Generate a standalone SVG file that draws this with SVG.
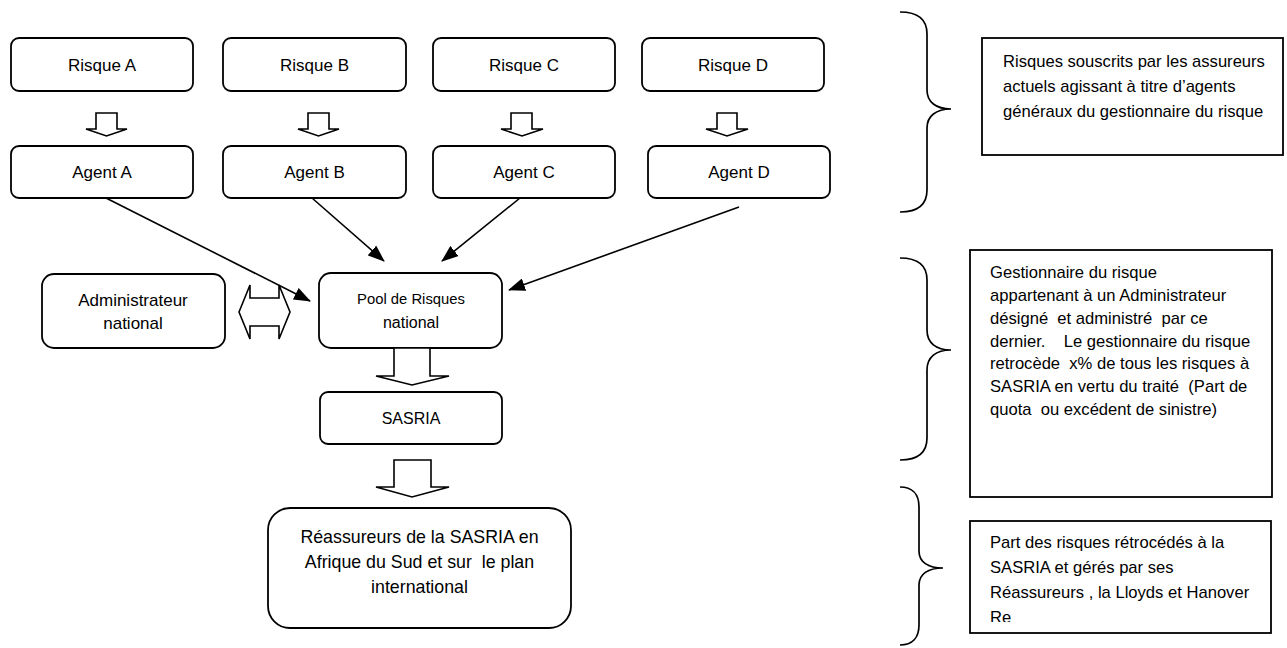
<svg xmlns="http://www.w3.org/2000/svg" width="1287" height="648" viewBox="0 0 1287 648">
<style>
text{font-family:"Liberation Sans",Arial,sans-serif;fill:#000}
.box{fill:#fff;stroke:#000;stroke-width:1.8}
.note{fill:#fff;stroke:#000;stroke-width:1.8}
.blk{fill:#fff;stroke:#000;stroke-width:1.6;stroke-linejoin:miter}
.lbl{font-size:17px;text-anchor:middle}
.nt{font-size:16.6px}
.ln{fill:none;stroke:#000;stroke-width:1.6}
.brace{fill:none;stroke:#000;stroke-width:1.7}
</style>
<defs>
<marker id="ah" markerWidth="17" markerHeight="13" refX="16" refY="6.5" orient="auto" markerUnits="userSpaceOnUse">
<path d="M0,0 L17,6.5 L0,13 Z" fill="#000"/>
</marker>
<clipPath id="c3"><rect x="970" y="521" width="301" height="101"/></clipPath>
</defs>
<rect width="1287" height="648" fill="#fff"/>

<g id="risque-a"><rect class="box" x="11" y="38" width="182" height="53" rx="8"/><text class="lbl" x="102" y="71">Risque A</text></g>
<g id="risque-b"><rect class="box" x="223" y="38" width="183" height="53" rx="8"/><text class="lbl" x="314.5" y="71">Risque B</text></g>
<g id="risque-c"><rect class="box" x="433" y="38" width="182" height="53" rx="8"/><text class="lbl" x="524" y="71">Risque C</text></g>
<g id="risque-d"><rect class="box" x="642" y="38" width="182" height="53" rx="8"/><text class="lbl" x="733" y="71">Risque D</text></g>

<g id="agent-a"><rect class="box" x="11" y="146" width="182" height="52" rx="8"/><text class="lbl" x="102" y="178">Agent A</text></g>
<g id="agent-b"><rect class="box" x="223" y="146" width="183" height="52" rx="8"/><text class="lbl" x="314.5" y="178">Agent B</text></g>
<g id="agent-c"><rect class="box" x="433" y="146" width="182" height="52" rx="8"/><text class="lbl" x="524" y="178">Agent C</text></g>
<g id="agent-d"><rect class="box" x="648" y="146" width="182" height="52" rx="8"/><text class="lbl" x="739" y="178">Agent D</text></g>

<g id="administrateur"><rect class="box" x="42" y="274" width="183" height="74" rx="12"/><text class="lbl" x="133" y="306">Administrateur</text><text class="lbl" x="133" y="329">national</text></g>
<g id="pool"><rect class="box" x="319" y="273" width="183" height="75" rx="12"/><text class="lbl" x="411" y="304" style="font-size:14.8px">Pool de Risques</text><text class="lbl" x="411" y="328" style="font-size:16px">national</text></g>
<g id="sasria"><rect class="box" x="320" y="392" width="182" height="52" rx="8"/><text class="lbl" x="411" y="424" style="font-size:16px">SASRIA</text></g>
<g id="reassureurs"><rect class="box" x="268" y="508" width="303" height="120" rx="22"/>
<text class="lbl" x="419.5" y="543" style="font-size:17.8px">Réassureurs de la SASRIA en</text>
<text class="lbl" x="419.5" y="568" style="font-size:17.8px" xml:space="preserve">Afrique du Sud et sur  le plan</text>
<text class="lbl" x="419.5" y="593" style="font-size:17.8px">international</text></g>

<g id="note-1"><rect class="note" x="982" y="38" width="301" height="117"/>
<text class="nt" x="1003" y="67">Risques souscrits par les assureurs</text>
<text class="nt" x="1003" y="92">actuels agissant à titre d’agents</text>
<text class="nt" x="1003" y="117">généraux du gestionnaire du risque</text></g>

<g id="note-2"><rect class="note" x="970" y="250" width="302" height="247"/>
<text class="nt" x="990" y="278">Gestionnaire du risque</text>
<text class="nt" x="990" y="301">appartenant à un Administrateur</text>
<text class="nt" x="990" y="324" xml:space="preserve">désigné  et administré  par ce</text>
<text class="nt" x="990" y="347" xml:space="preserve">dernier.    Le gestionnaire du risque</text>
<text class="nt" x="990" y="369" xml:space="preserve">retrocède  x% de tous les risques à</text>
<text class="nt" x="990" y="392" xml:space="preserve">SASRIA en vertu du traité  (Part de</text>
<text class="nt" x="990" y="415" xml:space="preserve">quota  ou excédent de sinistre)</text></g>

<g id="note-3"><rect class="note" x="970" y="521" width="301" height="112"/>
<g clip-path="url(#c3)">
<text class="nt" x="990" y="548">Part des risques rétrocédés à la</text>
<text class="nt" x="990" y="573">SASRIA et gérés par ses</text>
<text class="nt" x="990" y="598">Réassureurs , la Lloyds et Hanover</text>
<text class="nt" x="990" y="623">Re</text></g></g>

<g id="braces">
<path class="brace" d="M900,12 C917,12 927,19 927,34 L927,90 C927,102 936,109 951,109 C936,109 927,116 927,128 L927,190 C927,205 917,212 900,212"/>
<path class="brace" d="M900,258 C917,258 927,265 927,280 L927,330 C927,343 936,350 951,350 C936,350 927,357 927,370 L927,438 C927,453 917,460 900,460"/>
<path class="brace" d="M900,487 C912,487 919,494 919,507 L919,551 C919,562 928,568 943,568 C928,568 919,574 919,585 L919,625 C919,638 912,645 900,645"/>
</g>

<g id="connectors">
<path class="blk" d="M96,113 L117,113 L117,129 L127,129 L106.5,136 L86,129 L96,129 Z"/>
<path class="blk" d="M308,113 L329,113 L329,129 L339,129 L318.5,136 L298,129 L308,129 Z"/>
<path class="blk" d="M511,113 L532,113 L532,129 L543,129 L522,136 L501,129 L511,129 Z"/>
<path class="blk" d="M717,113 L737,113 L737,129 L748,129 L727,136 L706,129 L717,129 Z"/>
<line class="ln" x1="106" y1="198" x2="310" y2="301" marker-end="url(#ah)"/>
<line class="ln" x1="312" y1="198" x2="384" y2="261" marker-end="url(#ah)"/>
<line class="ln" x1="520" y1="198" x2="442" y2="261" marker-end="url(#ah)"/>
<line class="ln" x1="739" y1="207" x2="509" y2="290" marker-end="url(#ah)"/>
<path class="blk" d="M239,312 L250,285 L250,298 L279,298 L279,285 L290,312 L279,339 L279,326 L250,326 L250,339 Z"/>
<path class="blk" d="M394,348 L430,348 L430,376 L449,376 L412,385 L376,376 L394,376 Z"/>
<path class="blk" d="M394,460 L431,460 L431,487 L449,487 L412,497 L376,487 L394,487 Z"/>
</g>
</svg>
